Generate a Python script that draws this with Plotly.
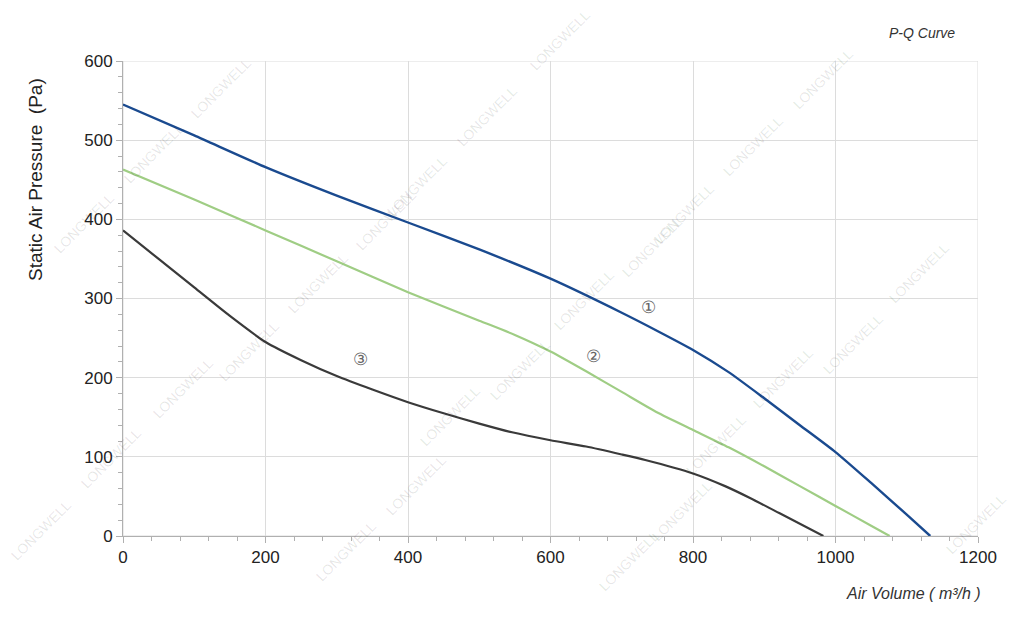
import plotly.graph_objects as go

# Curve 1 (blue)
q1 = [0, 100, 200, 300, 400, 500, 600, 700, 750, 800, 850, 900, 950, 1000, 1050, 1100, 1133]
p1 = [545, 506, 466, 430, 396, 362, 325, 282, 259, 235, 207, 174, 140, 106, 67, 27, 0]
# Curve 2 (green)
q2 = [0, 100, 200, 300, 400, 500, 550, 600, 650, 700, 750, 800, 850, 900, 950, 1000, 1050, 1076]
p2 = [463, 425, 386, 347, 308, 272, 254, 233, 208, 182, 156, 134, 112, 88, 63, 38, 13, 0]
# Curve 3 (dark)
q3 = [0, 50, 100, 150, 200, 250, 300, 350, 400, 450, 500, 546, 600, 650, 700, 733, 800, 845, 880, 921, 983]
p3 = [386, 350, 314, 278, 245, 222, 202, 185, 169, 155, 142, 131, 121, 113, 103, 96, 79, 63, 48, 29, 0]

curve_labels = ["①", "②", "③"]
label_q = [737, 660, 334]
label_p = [289, 227, 223]

x_ticks = [0, 200, 400, 600, 800, 1000, 1200]
y_ticks = [0, 100, 200, 300, 400, 500, 600]

# watermark centres (pixels in the 1024x629 image)
wm_px = [(185, 52), (118, 117), (48, 187), (487, 80), (417, 150), (350, 220), (282, 283),
         (213, 351), (147, 424), (75, 494), (5, 566), (560, 4), (859, 43), (789, 110),
         (720, 178), (652, 247), (584, 300), (520, 370), (450, 452), (380, 521), (310, 587),
         (955, 273), (889, 344), (819, 414), (752, 481), (682, 547), (629, 597),
         (1012, 560)]

# page has an 8px body margin; figure is sized to fit the window exactly
W, H = 1008, 613
PX0, PX1, PY0, PY1 = 123, 978, 61, 536  # plot area in page pixels


def px2paper(px, py):
    return (px - PX0) / (PX1 - PX0), (PY1 - py) / (PY1 - PY0)


fig = go.Figure()
fig.add_trace(go.Scatter(x=q3, y=p3, mode="lines", line=dict(color="#3a3a3a", width=2.2, shape="spline", smoothing=0.6), showlegend=False))
fig.add_trace(go.Scatter(x=q2, y=p2, mode="lines", line=dict(color="#9fcd84", width=2.2, shape="spline", smoothing=0.6), showlegend=False))
fig.add_trace(go.Scatter(x=q1, y=p1, mode="lines", line=dict(color="#1a4a8f", width=2.4, shape="spline", smoothing=0.6), showlegend=False))

for t, xq, yp in zip(curve_labels, label_q, label_p):
    fig.add_annotation(x=xq, y=yp, text=t, showarrow=False,
                       font=dict(family="DejaVu Serif", size=17, color="#666"))

for (px, py) in wm_px:
    ax, ay = px2paper(px, py)
    fig.add_annotation(xref="paper", yref="paper", x=ax, y=ay, text="LONGWELL",
                       showarrow=False, textangle=-45,
                       font=dict(family="Liberation Sans", size=14, color="rgba(0,0,0,0.10)"))

tx, ty = px2paper(957, 33)
fig.add_annotation(xref="paper", yref="paper", x=tx, y=ty, xanchor="right", yanchor="middle",
                   text="<i>P-Q Curve</i>", showarrow=False,
                   font=dict(family="Liberation Sans", size=14, color="#333"))
ax_, ay_ = px2paper(983, 593)
fig.add_annotation(xref="paper", yref="paper", x=ax_, y=ay_, xanchor="right", yanchor="middle",
                   text="<i>Air Volume ( m³/h )</i>", showarrow=False,
                   font=dict(family="Liberation Sans", size=16, color="#333"))
yx, yy = px2paper(35, 180)
fig.add_annotation(xref="paper", yref="paper", x=yx, y=yy, xanchor="center", yanchor="middle",
                   text="Static Air Pressure  (Pa)", showarrow=False, textangle=-90,
                   font=dict(family="Liberation Sans", size=19, color="#222"))

axis_common = dict(showgrid=True, gridcolor="#dcdcdc", gridwidth=1, showline=True, linecolor="#b0b0b0",
                   linewidth=1, ticks="outside", ticklen=6, tickcolor="#b0b0b0",
                   tickfont=dict(family="Liberation Sans", size=17, color="#222"), zeroline=False)

fig.update_layout(
    width=W, height=H, autosize=False,
    margin=dict(l=PX0 - 8, r=W - (PX1 - 8), t=PY0 - 8, b=H - (PY1 - 8)),
    plot_bgcolor="white", paper_bgcolor="white",
    xaxis=dict(range=[0, 1200], tickvals=x_ticks,
               minor=dict(dtick=40, ticks="outside", ticklen=4, tickcolor="#b0b0b0", showgrid=False),
               **axis_common),
    yaxis=dict(range=[0, 600], tickvals=y_ticks,
               minor=dict(dtick=20, ticks="outside", ticklen=4, tickcolor="#b0b0b0", showgrid=False),
               **axis_common),
)
fig.add_shape(type="rect", xref="x", yref="y", x0=0, y0=0, x1=1200, y1=600,
              line=dict(color="#dcdcdc", width=1), layer="below")

fig.write_html("out.html")
